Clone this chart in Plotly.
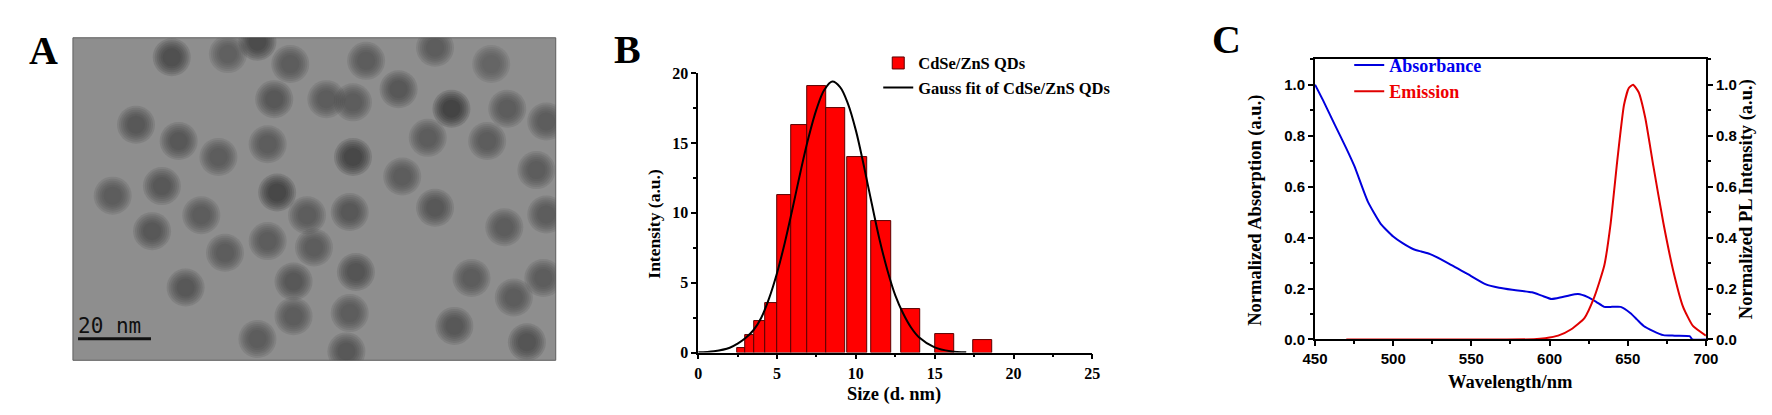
import plotly.graph_objects as go

# ---- panel A: TEM frame, particle centres (nm) ----
frame_w_nm = 132.4
frame_h_nm = 90.9
particle_x = [27.1, 42.5, 50.6, 59.6, 80.4, 89.3, 55.2, 69.5, 76.8, 17.3, 29.0, 39.9, 53.4,
              76.8, 90.3, 10.9, 24.4, 56.0, 75.9, 21.7, 35.2, 64.2, 53.4, 66.1, 41.7, 77.6,
              30.9, 60.5, 60.5, 75.9, 50.6, 75.0, 99.3, 114.7, 103.8, 119.1, 129.8, 97.3,
              113.6, 127.1, 99.3, 118.3, 129.8, 109.3, 120.9, 129.0, 104.6, 124.5]
particle_y = [5.5, 4.6, 1.1, 7.4, 6.5, 14.5, 17.3, 17.3, 18.2, 24.5, 29.1, 33.6, 30.0,
              33.6, 39.1, 44.5, 41.8, 43.6, 49.1, 54.5, 50.0, 50.0, 57.3, 59.1, 60.6, 66.0,
              70.4, 68.7, 78.5, 77.6, 84.9, 88.4, 2.8, 7.4, 20.0, 20.0, 23.6, 28.2,
              29.1, 37.3, 47.9, 53.4, 49.8, 67.7, 73.2, 67.7, 81.2, 85.8]
particle_contrast = [0.6, 0.35, 0.7, 0.45, 0.45, 0.5, 0.5, 0.4, 0.45, 0.5, 0.5, 0.45, 0.45,
                     0.75, 0.45, 0.45, 0.5, 0.75, 0.5, 0.5, 0.45, 0.4, 0.4, 0.4, 0.45, 0.55,
                     0.5, 0.5, 0.45, 0.4, 0.45, 0.5, 0.45, 0.3, 0.8, 0.45, 0.45, 0.45,
                     0.4, 0.45, 0.5, 0.4, 0.45, 0.4, 0.45, 0.4, 0.5, 0.55]
scale_bar_nm = 20
scale_bar_x0 = 1.4
scale_bar_y = 84.8

# ---- panel B: size histogram ----
bin_lo = [2.5, 2.98, 3.56, 4.23, 5.0, 5.9, 6.9, 8.13, 9.48, 11.0, 12.88, 15.02, 17.46]
bin_hi = [2.98, 3.56, 4.23, 5.0, 5.9, 6.9, 8.13, 9.34, 10.69, 12.25, 14.09, 16.25, 18.67]
counts = [0.36, 1.28, 2.29, 3.57, 11.25, 16.27, 19.06, 17.48, 13.97, 9.44, 3.14, 1.31, 0.92]
fit_x = [0, 1, 2, 2.5, 3, 3.5, 4, 4.5, 5, 5.5, 6, 6.5, 7, 7.5, 8, 8.5, 9, 9.5, 10,
         10.5, 11, 11.5, 12, 12.5, 13, 13.5, 14, 15, 16, 17]
fit_y = [0.02, 0.1, 0.35, 0.65, 1.05, 1.6, 2.5, 3.9, 5.7, 7.9, 10.4, 13.0, 15.4, 17.4,
         18.8, 19.4, 19.0, 17.8, 15.9, 13.4, 10.7, 8.1, 5.9, 4.1, 2.8, 1.8, 1.1, 0.38, 0.1, 0.02]

# ---- panel C: absorbance / emission ----
abs_wl = [450, 455, 462.6, 470, 475.2, 483.7, 492, 500, 506, 513, 518, 523.6, 534.1, 546.7,
          559.3, 567.7, 576.1, 588.7, 595, 601.3, 607.6, 612, 618.2, 624.5, 630, 635, 640,
          645.5, 651.8, 656, 660.2, 666, 672.8, 680, 689.6, 691.3, 700]
abs_val = [1.0, 0.94, 0.843, 0.75, 0.68, 0.542, 0.454, 0.404, 0.378, 0.354, 0.345, 0.335,
           0.303, 0.26, 0.216, 0.203, 0.195, 0.185, 0.172, 0.159, 0.166, 0.172, 0.178, 0.166,
           0.147, 0.128, 0.128, 0.128, 0.103, 0.078, 0.053, 0.034, 0.017, 0.015, 0.013, 0.0, 0.0]
em_wl = [470, 520, 570, 590, 597.2, 605.5, 613.9, 622.3, 628.6, 635, 639.1, 643.4, 647.6,
         650.7, 653.4, 657, 661.2, 666.4, 672.8, 679.1, 685.4, 691.7, 700]
em_val = [0, 0, 0, 0.001, 0.005, 0.015, 0.04, 0.084, 0.166, 0.29, 0.457, 0.707, 0.92,
          0.987, 1.0, 0.97, 0.87, 0.68, 0.457, 0.27, 0.128, 0.053, 0.015]

W, H = 1772, 415
SERIF = "Liberation Serif"
SANS = "Liberation Sans"


def px(x):
    return x / W


def py(y):
    return 1 - y / H


fig = go.Figure()

# A: stacked translucent discs give each particle a soft edge
for size in [38, 34, 30, 26, 22, 18]:
    fig.add_trace(go.Scatter(
        x=particle_x, y=particle_y, mode="markers", xaxis="x", yaxis="y", showlegend=False,
        marker=dict(size=size, color=particle_contrast, cmin=0, cmax=1, opacity=0.16,
                    colorscale=[[0, "#6a6a6a"], [1, "#101010"]], line=dict(width=0)),
        hoverinfo="skip"))
fig.add_trace(go.Scatter(
    x=[scale_bar_x0, scale_bar_x0 + scale_bar_nm], y=[scale_bar_y, scale_bar_y],
    mode="lines", xaxis="x", yaxis="y", showlegend=False,
    line=dict(color="#101010", width=3), hoverinfo="skip"))

# B
centers = [(a + b) / 2 for a, b in zip(bin_lo, bin_hi)]
widths = [b - a for a, b in zip(bin_lo, bin_hi)]
fig.add_trace(go.Bar(
    x=centers, y=counts, width=widths, xaxis="x2", yaxis="y2", name="CdSe/ZnS QDs",
    marker=dict(color="#ff0000", line=dict(color="#5a0000", width=1)), legend="legend"))
fig.add_trace(go.Scatter(
    x=fit_x, y=fit_y, mode="lines", xaxis="x2", yaxis="y2",
    name="Gauss fit of CdSe/ZnS QDs", line=dict(color="black", width=2, shape="spline"),
    legend="legend"))

# C
fig.add_trace(go.Scatter(
    x=abs_wl, y=abs_val, mode="lines", xaxis="x3", yaxis="y3",
    name='<span style="color:#0000ee">Absorbance</span>',
    line=dict(color="#0000dd", width=2, shape="spline", smoothing=0.5), legend="legend2"))
fig.add_trace(go.Scatter(
    x=em_wl, y=em_val, mode="lines", xaxis="x3", yaxis="y4",
    name='<span style="color:#ee0000">Emission</span>',
    line=dict(color="#e00000", width=2, shape="spline", smoothing=0.5), legend="legend2"))

hidden = dict(visible=False, showgrid=False, zeroline=False)
b_tick = dict(family=SERIF, size=16, color="black", weight="bold")
c_tick = dict(family=SANS, size=15, color="black", weight="bold")

b_axis = dict(showline=True, linecolor="black", linewidth=1.5, ticks="outside", ticklen=5,
              tickwidth=1.5, tickcolor="black", showgrid=False, zeroline=False,
              tickfont=b_tick)
c_axis = dict(showline=True, linecolor="black", linewidth=2, ticks="outside", ticklen=5,
              tickwidth=1.5, tickcolor="black", showgrid=False, zeroline=False,
              tickfont=c_tick)

fig.update_layout(
    width=W, height=H, margin=dict(l=0, r=0, t=0, b=0),
    paper_bgcolor="white", plot_bgcolor="rgba(0,0,0,0)",
    xaxis=dict(domain=[px(52.7), px(542.7)], range=[0, frame_w_nm], anchor="y", **hidden),
    yaxis=dict(domain=[py(359), py(22.7)], range=[frame_h_nm, 0], anchor="x", **hidden),
    xaxis2=dict(domain=[px(687.3), px(1087.3)], range=[0, 25], anchor="y2", dtick=5,
                minor=dict(ticks="outside", ticklen=3, dtick=2.5, tickcolor="black"), **b_axis),
    yaxis2=dict(domain=[py(351), py(59.5)], range=[0, 20], anchor="x2", dtick=5,
                minor=dict(ticks="outside", ticklen=3, dtick=2.5, tickcolor="black"), **b_axis),
    xaxis3=dict(domain=[px(1313.3), px(1710)], range=[450, 700], anchor="y3", dtick=50,
                mirror=True,
                minor=dict(ticks="outside", ticklen=3, dtick=25, tickcolor="black"), **c_axis),
    yaxis3=dict(domain=[py(337.3), py(45)], range=[0, 1.1], anchor="x3", dtick=0.2,
                tickformat=".1f",
                minor=dict(ticks="outside", ticklen=3, dtick=0.1, tickcolor="black"), **c_axis),
    yaxis4=dict(range=[0, 1.1], anchor="x3", overlaying="y3", side="right", dtick=0.2,
                tickformat=".1f",
                minor=dict(ticks="outside", ticklen=3, dtick=0.1, tickcolor="black"), **c_axis),
    bargap=0,
    legend=dict(x=px(870), y=py(31), xanchor="left", yanchor="top", bgcolor="rgba(0,0,0,0)",
                font=dict(family=SERIF, size=16.5, color="black", weight="bold"),
                tracegroupgap=0),
    legend2=dict(x=px(1348), y=py(32), xanchor="left", yanchor="top",
                 bgcolor="rgba(0,0,0,0)",
                 font=dict(family=SERIF, size=18, color="black", weight="bold")),
    shapes=[dict(type="rect", xref="x domain", yref="y domain", x0=0, x1=1, y0=0, y1=1,
                 fillcolor="#8e8e8e", line=dict(color="#5e5e5e", width=1), layer="below")],
)

notes = [
    ("A", 23, 36, 40, 0, SERIF),
    ("B", 616, 35, 40, 0, SERIF),
    ("C", 1223, 24, 40, 0, SERIF),
    ("Intensity (a.u.)", 643, 217, 17.5, -90, SERIF),
    ("Size (d. nm)", 886, 395, 18.5, 0, SERIF),
    ("Normalized Absorption (a.u.)", 1253, 202.5, 18.5, -90, SERIF),
    ("Normalized PL Intensity (a.u.)", 1750.7, 191, 18.5, -90, SERIF),
    ("Wavelength/nm", 1512, 382, 18.5, 0, SERIF),
]
for text, x, y, size, ang, fam in notes:
    fig.add_annotation(text=text, xref="paper", yref="paper", x=px(x), y=py(y),
                       xanchor="center", yanchor="middle", textangle=ang, showarrow=False,
                       font=dict(family=fam, size=size, color="black", weight="bold"))

fig.add_annotation(text="20 nm", xref="x", yref="y", x=scale_bar_x0 + scale_bar_nm / 2 - 1.3,
                   y=scale_bar_y - 3.6, xanchor="center", yanchor="middle", showarrow=False,
                   font=dict(family="DejaVu Sans Mono", size=21, color="#101010"))

fig.write_html("out.html")
